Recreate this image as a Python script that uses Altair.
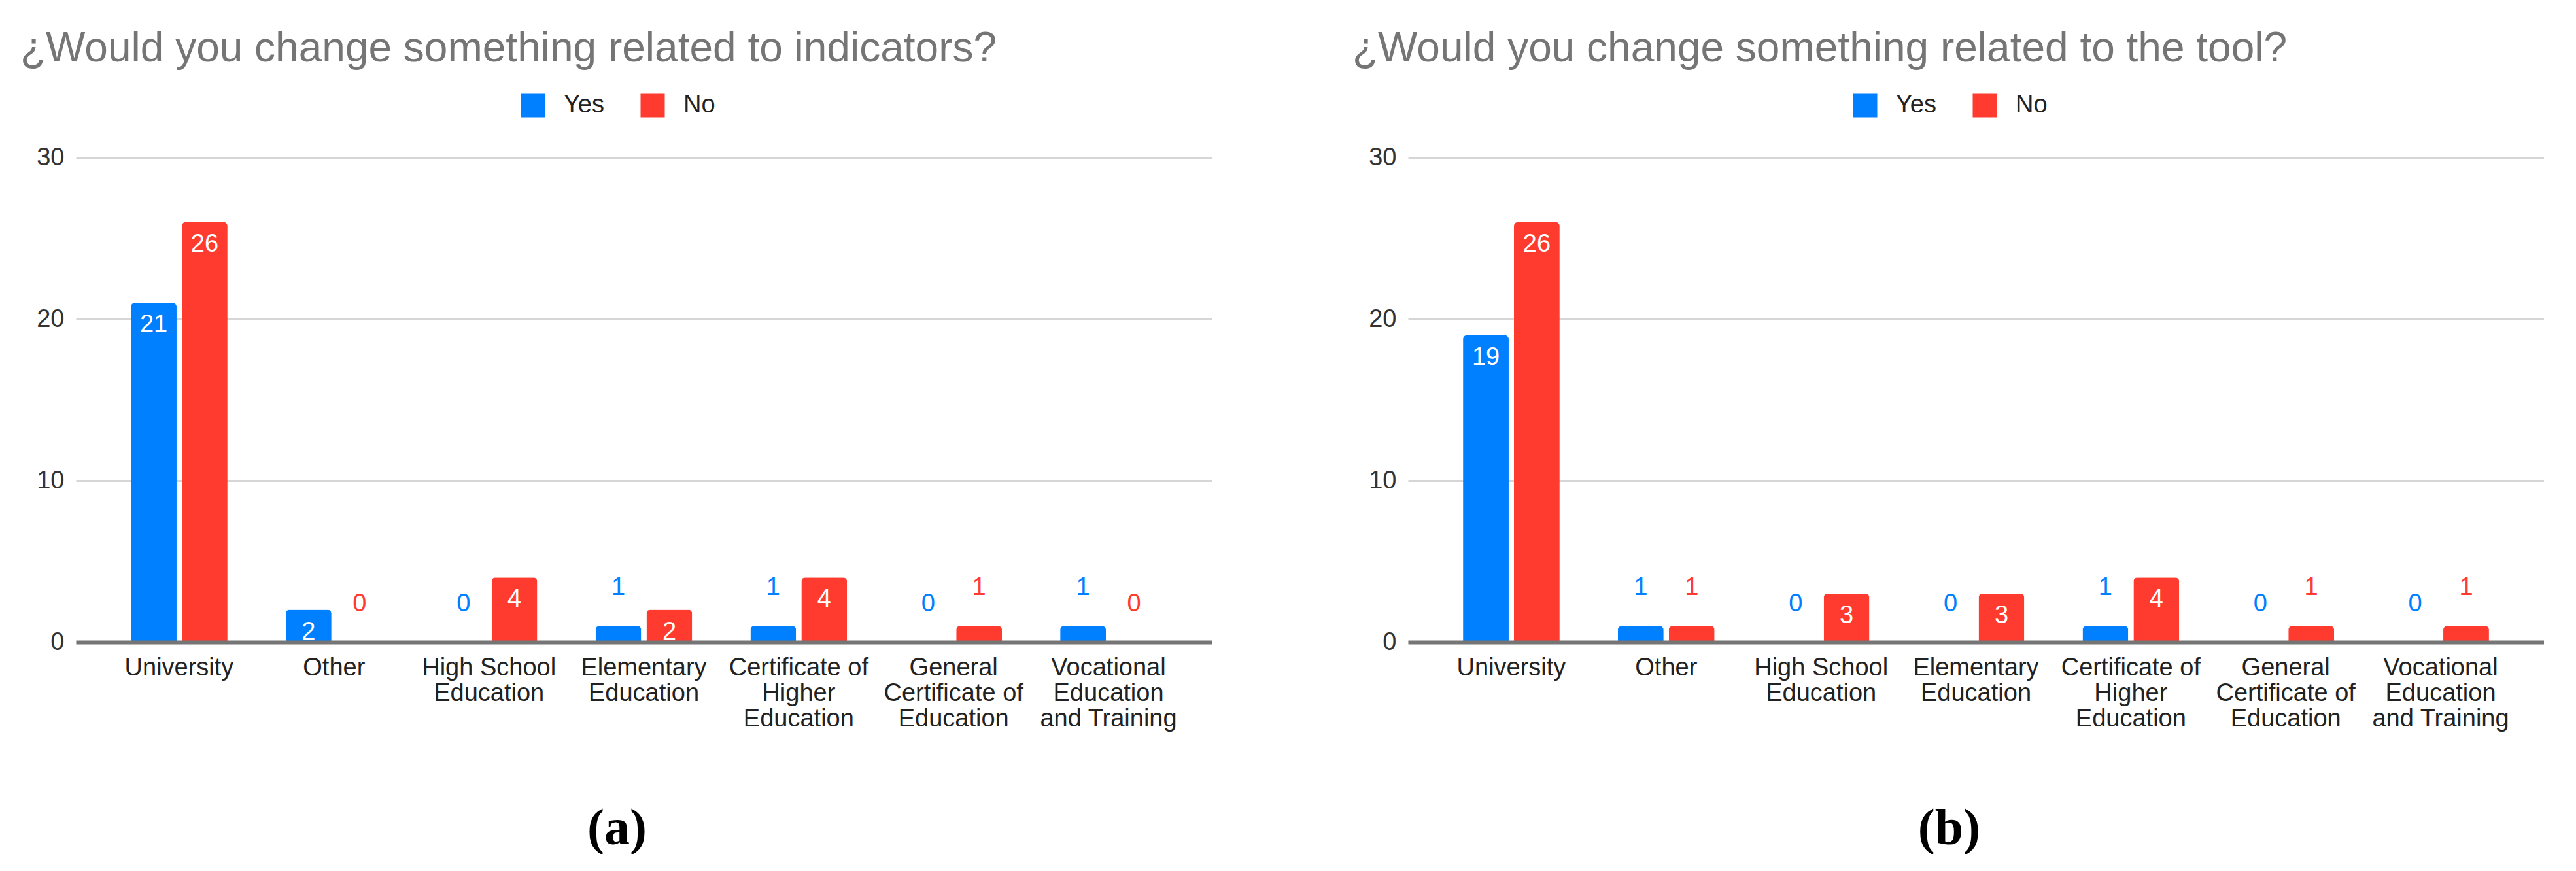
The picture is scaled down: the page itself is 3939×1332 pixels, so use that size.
import altair as alt
import pandas as pd

# ---- data ----
categories = ["University", "Other", "High School|Education", "Elementary|Education",
              "Certificate of|Higher|Education", "General|Certificate of|Education",
              "Vocational|Education|and Training"]
series = ["Yes", "No"]
yes_a = [21, 2, 0, 1, 1, 0, 1]
no_a = [26, 0, 4, 2, 4, 1, 0]
yes_b = [19, 1, 0, 0, 1, 0, 0]
no_b = [26, 1, 3, 3, 4, 1, 1]
y_ticks = [0, 10, 20, 30]
title_a = "¿Would you change something related to indicators?"
title_b = "¿Would you change something related to the tool?"
caption_a = "(a)"
caption_b = "(b)"

BLUE = "#0080ff"
RED = "#ff3b30"
FONT = "Liberation Sans"
SERIF = "Liberation Serif"


def make_df(yes, no):
    rows = []
    for c, y, n in zip(categories, yes, no):
        rows.append({"cat": c, "series": "Yes", "value": y})
        rows.append({"cat": c, "series": "No", "value": n})
    return pd.DataFrame(rows)


def panel(yes, no, title, caption):
    df = make_df(yes, no)
    base = alt.Chart(df).encode(
        x=alt.X(
            "cat:N",
            sort=categories,
            scale=alt.Scale(domain=categories, paddingInner=0.376, paddingOuter=0.355),
            axis=alt.Axis(
                title=caption,
                labelExpr="split(datum.value, '|')",
                labelAngle=0,
                labelFont=FONT,
                labelFontSize=38,
                labelColor="#222222",
                labelLineHeight=39,
                labelPadding=20,
                labelBaseline="top",
                labelLimit=0,
                labelOverlap=False,
                ticks=False,
                domain=True,
                domainColor="#757575",
                domainWidth=6,
                grid=False,
                zindex=1,
                titleFont=SERIF,
                titleFontSize=78,
                titleFontWeight="bold",
                titleColor="#000000",
                titleX=827,
                titlePadding=110,
            ),
        ),
        xOffset=alt.XOffset(
            "series:N",
            sort=series,
            scale=alt.Scale(domain=series, paddingInner=0.1026, paddingOuter=0),
        ),
        y=alt.Y(
            "value:Q",
            scale=alt.Scale(domain=[0, 30], nice=False),
            axis=alt.Axis(
                values=y_ticks,
                title=None,
                labelFont=FONT,
                labelFontSize=38,
                labelColor="#333333",
                labelPadding=18,
                ticks=False,
                domain=False,
                grid=True,
                gridColor="#d6d6d6",
                gridWidth=3,
            ),
        ),
        color=alt.Color(
            "series:N",
            sort=series,
            scale=alt.Scale(domain=series, range=[BLUE, RED]),
            legend=alt.Legend(
                orient="none",
                legendX=680,
                legendY=-99,
                direction="horizontal",
                title=None,
                symbolType="square",
                symbolSize=1370,
                symbolStrokeWidth=0,
                labelFont=FONT,
                labelFontSize=38,
                labelColor="#222222",
                labelOffset=28,
                columnPadding=55,
                padding=0,
            ),
        ),
    )
    bars = base.transform_filter("datum.value > 0").mark_bar(
        cornerRadiusTopLeft=6, cornerRadiusTopRight=6
    )
    inside = base.transform_filter("datum.value >= 2").mark_text(
        baseline="top", dy=15, fontSize=38, font=FONT
    ).encode(text="value:Q", color=alt.value("white"))
    outside = base.transform_filter("datum.value < 2").mark_text(
        baseline="alphabetic", dy=-47, fontSize=38, font=FONT
    ).encode(text="value:Q")
    return alt.layer(bars, inside, outside).properties(
        width=1737,
        height=741,
        title=alt.TitleParams(
            text=title,
            anchor="start",
            frame="group",
            dx=-85,
            font=FONT,
            fontSize=64,
            fontWeight="normal",
            color="#757575",
            offset=35,
        ),
    )


left = panel(yes_a, no_a, title_a, caption_a)
right = panel(yes_b, no_b, title_b, caption_b)

chart = alt.hconcat(left, right, spacing=215).resolve_scale(color="independent").properties(
    padding={"left": 23, "top": 35, "right": 0, "bottom": 0},
    background="white",
).configure_view(stroke=None)

chart.save("out.html", embed_options={"renderer": "svg", "actions": False})
